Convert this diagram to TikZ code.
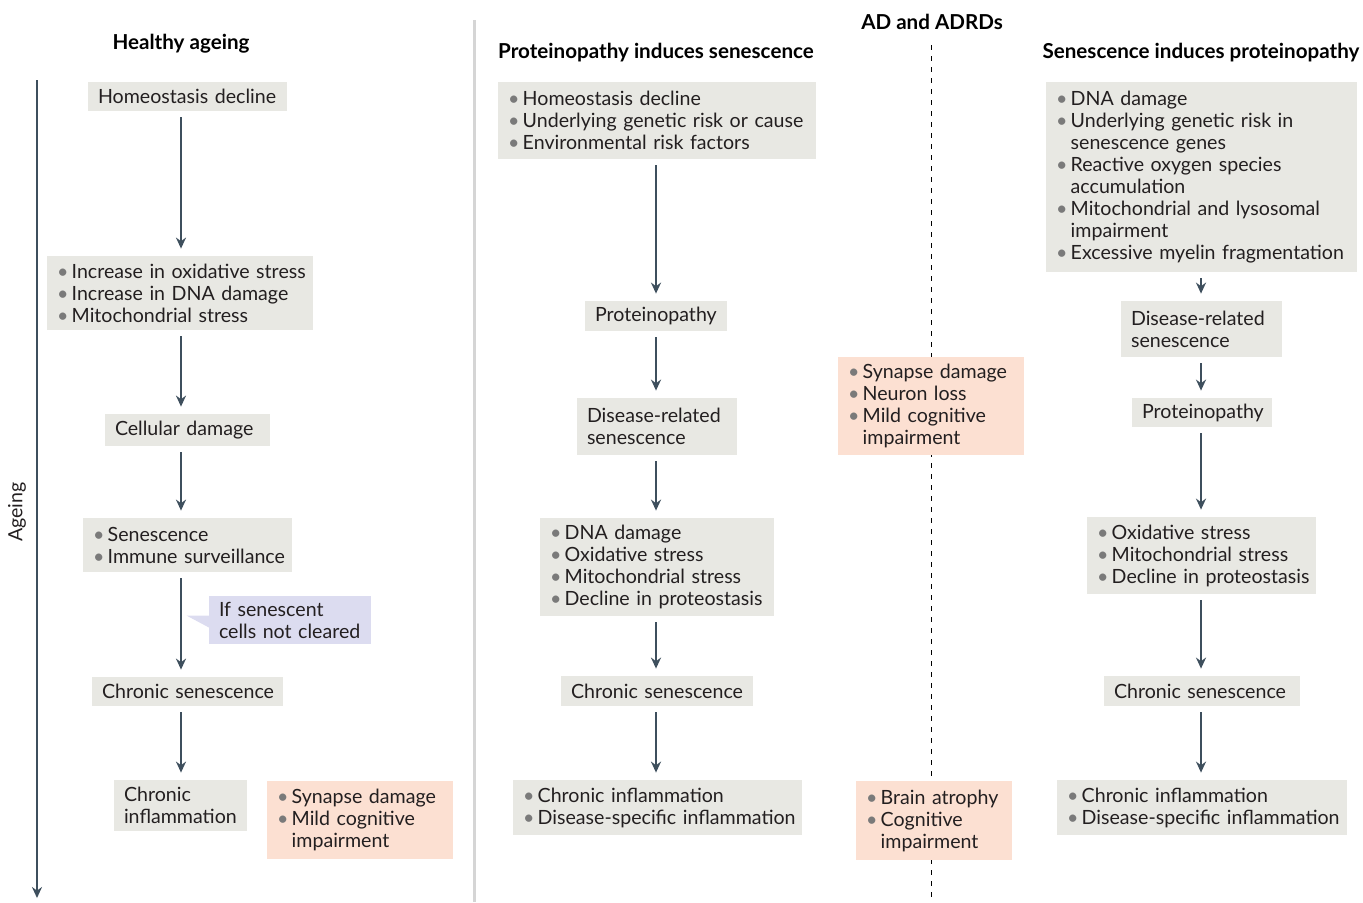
\documentclass[tikz,border=0pt]{standalone}
\usepackage{fontspec}
\setmainfont{Lato}
\usepackage{tikz}
\usetikzlibrary{calc,arrows.meta}

\definecolor{boxgray}{HTML}{E8E8E3}
\definecolor{pinkfill}{HTML}{FCE0D2}
\definecolor{notefill}{HTML}{DCDCF0}
\definecolor{flowcol}{HTML}{3E4F5D}
\definecolor{dotgray}{HTML}{7A7A7A}
\definecolor{sepgray}{HTML}{D5D5D5}
\definecolor{inkcol}{HTML}{231F20}

\newcommand{\bl}[1]{\mbox{\makebox[0.75em][l]{\textcolor{dotgray}{\textbullet}}#1}}
\newcommand{\ct}[1]{\mbox{\hspace*{0.75em}#1}}

\tikzset{
  box/.style={fill=boxgray, inner xsep=5pt, inner ysep=2pt, align=left, text=inkcol,
    font=\fontsize{9.8}{11}\selectfont},
  pinkbox/.style={box, fill=pinkfill},
  notebox/.style={box, fill=notefill},
  flow/.style={draw=flowcol, line width=1.3pt, -{Stealth[length=5.5pt,width=5pt]},
    shorten <=3pt, shorten >=3.5pt},
  title/.style={font=\fontsize{10.3}{12}\selectfont\bfseries, text=black, inner sep=0pt}
}

\begin{document}
\begin{tikzpicture}[x=0.5pt, y=-0.5pt]
			%%%%% START %%%%%
			\useasboundingbox (0,0) rectangle (1363,902);
			
			% column guides
			\coordinate (colL) at (181,0);
			\coordinate (colM) at (656,0);
			\coordinate (colR) at (1201,0);
			
			\draw[sepgray, line width=1.5pt] (474,20) -- (474,902);
			\draw[black, line width=0.5pt, dash pattern=on 2.5pt off 3pt] (931,45) -- (931,902);
			
			% ageing axis
			\coordinate (agetop) at (37,80);
			\coordinate (agebot) at (37,898);
			\draw[flow, shorten <=0pt, shorten >=0pt] (agetop) -- (agebot);
			\node[rotate=90, font=\fontsize{9.8}{11}\selectfont, text=inkcol] (agelbl) at (17,512) {Ageing};
			
			% titles
			\node[title] (t1) at (181,44) {Healthy ageing};
			\node[title] (t2) at (656,53) {Proteinopathy induces senescence};
			\node[title] (t3) at (932,22) {AD and ADRDs};
			\node[title] (t4) at (1201,53) {Senescence induces proteinopathy};
			
			%%%%% healthy ageing %%%%%
			\node[box, text width=89.5pt, minimum height=14.5pt] (hd1) at (187.5,96.5) {\mbox{Homeostasis decline}};
			\node[box, text width=123pt, minimum height=37pt] (ox1) at (180,293)
			  {\bl{Increase in oxidative stress}\\ \bl{Increase in DNA damage}\\ \bl{Mitochondrial stress}};
			\node[box, text width=72.5pt, minimum height=16pt] (cd1) at (187.5,430) {\mbox{Cellular damage}};
			\node[box, text width=94.5pt, minimum height=27pt] (sn1) at (187.5,545)
			  {\bl{Senescence}\\ \bl{Immune surveillance}};
			\node[notebox, text width=71pt, minimum height=24pt] (nt1) at (290,620)
			  {\mbox{If senescent}\\ \mbox{cells not cleared}};
			\fill[notefill] ($(nt1.north west)+(0.5,20)$) -- ($(nt1.north west)+(-22,20)$) -- ($(nt1.north west)+(0.5,32)$) -- cycle;
			\node[box, text width=85.5pt, minimum height=14.5pt] (cs1) at (187.5,691.5) {\mbox{Chronic senescence}};
			\node[box, text width=56.5pt, minimum height=25.5pt] (ci1) at (180.5,805.5)
			  {\mbox{Chronic}\\ \mbox{inflammation}};
			\node[pinkbox, text width=83pt, minimum height=39pt] (sy1) at (360,820)
			  {\bl{Synapse damage}\\ \bl{Mild cognitive}\\ \ct{impairment}};
			
			\draw[flow] (hd1.south -| colL) -- (ox1.north -| colL);
			\draw[flow] (ox1.south -| colL) -- (cd1.north -| colL);
			\draw[flow] (cd1.south -| colL) -- (sn1.north -| colL);
			\draw[flow] (sn1.south -| colL) -- (cs1.north -| colL);
			\draw[flow] (cs1.south -| colL) -- (ci1.north -| colL);
			
			%%%%% proteinopathy induces senescence %%%%%
			\node[box, text width=149pt, minimum height=38.5pt] (pb2) at (657,120.5)
			  {\bl{Homeostasis decline}\\ \bl{Underlying genetic risk or cause}\\ \bl{Environmental risk factors}};
			\node[box, text width=61pt, minimum height=15pt] (pr2) at (656,316) {\mbox{Proteinopathy}};
			\node[box, text width=70pt, minimum height=28.5pt] (dr2) at (657,426.5)
			  {\mbox{Disease-related}\\ \mbox{senescence}};
			\node[box, text width=107pt, minimum height=49pt] (dn2) at (657,567)
			  {\bl{DNA damage}\\ \bl{Oxidative stress}\\ \bl{Mitochondrial stress}\\ \bl{Decline in proteostasis}};
			\node[box, text width=86pt, minimum height=15pt] (cs2) at (657,691) {\mbox{Chronic senescence}};
			\node[box, text width=134.5pt, minimum height=27.5pt] (ci2) at (657.5,807.5)
			  {\bl{Chronic inflammation}\\ \bl{Disease-specific inflammation}};
			
			\draw[flow] (pb2.south -| colM) -- (pr2.north -| colM);
			\draw[flow] (pr2.south -| colM) -- (dr2.north -| colM);
			\draw[flow] (dr2.south -| colM) -- (dn2.north -| colM);
			\draw[flow] (dn2.south -| colM) -- (cs2.north -| colM);
			\draw[flow] (cs2.south -| colM) -- (ci2.north -| colM);
			
			%%%%% AD and ADRDs outcomes %%%%%
			\node[pinkbox, text width=83pt, minimum height=49pt] (sy2) at (931,406)
			  {\bl{Synapse damage}\\ \bl{Neuron loss}\\ \bl{Mild cognitive}\\ \ct{impairment}};
			\node[pinkbox, text width=68pt, minimum height=39.5pt] (ba2) at (934,820.5)
			  {\bl{Brain atrophy}\\ \bl{Cognitive}\\ \ct{impairment}};
			
			%%%%% senescence induces proteinopathy %%%%%
			\node[box, text width=145.5pt, minimum height=95pt] (dn3) at (1201.5,177)
			  {\bl{DNA damage}\\ \bl{Underlying genetic risk in}\\ \ct{senescence genes}\\ \bl{Reactive oxygen species}\\ \ct{accumulation}\\ \bl{Mitochondrial and lysosomal}\\ \ct{impairment}\\ \bl{Excessive myelin fragmentation}};
			\node[box, text width=70.5pt, minimum height=28pt] (dr3) at (1201.5,329)
			  {\mbox{Disease-related}\\ \mbox{senescence}};
			\node[box, text width=60pt, minimum height=14.5pt] (pr3) at (1202,412.5) {\mbox{Proteinopathy}};
			\node[box, text width=104.5pt, minimum height=38.5pt] (ox3) at (1201.5,555.5)
			  {\bl{Oxidative stress}\\ \bl{Mitochondrial stress}\\ \bl{Decline in proteostasis}};
			\node[box, text width=88pt, minimum height=15pt] (cs3) at (1202,691) {\mbox{Chronic senescence}};
			\node[box, text width=135pt, minimum height=27.5pt] (ci3) at (1202,807.5)
			  {\bl{Chronic inflammation}\\ \bl{Disease-specific inflammation}};
			
			\draw[flow] (dn3.south -| colR) -- (dr3.north -| colR);
			\draw[flow] (dr3.south -| colR) -- (pr3.north -| colR);
			\draw[flow] (pr3.south -| colR) -- (ox3.north -| colR);
			\draw[flow] (ox3.south -| colR) -- (cs3.north -| colR);
			\draw[flow] (cs3.south -| colR) -- (ci3.north -| colR);
			
			%%%%% END %%%%%
\end{tikzpicture}
\end{document}
